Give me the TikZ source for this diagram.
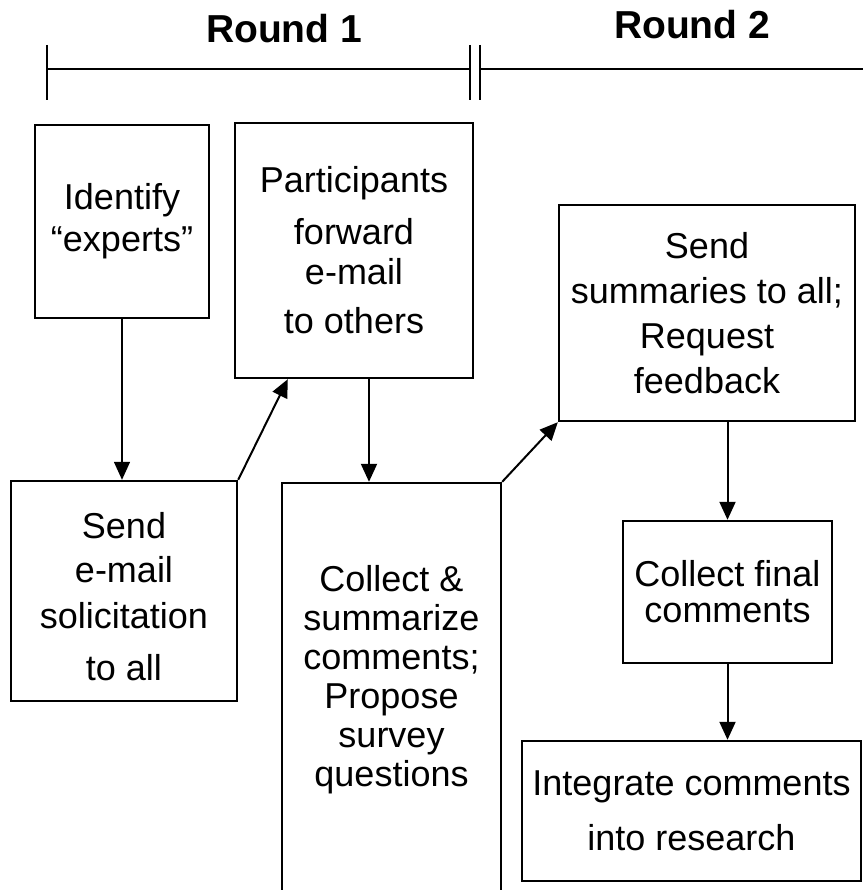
\documentclass[tikz,border=0pt]{standalone}
\usepackage{fontspec}
\setmainfont{Liberation Sans}
\usetikzlibrary{arrows.meta}
\begin{document}
\begin{tikzpicture}[x=1pt, y=-1pt,
        >={Triangle[length=18pt,width=16pt]}, % Pfeilspitzen
        box/.style={draw, line width=2.4pt, inner sep=0pt, align=center},
        txt/.style={align=center, font={\fontsize{36}{#1}\selectfont}},
        round/.style={anchor=base, font={\fontsize{39}{44}\selectfont\bfseries}},
        flow/.style={->, line width=2pt}]
        % Bildbereich
        \useasboundingbox (0,0) rectangle (863,890);
        \clip (0,0) rectangle (863,890);
        % Zeitachse
        \node[round] (round1) at (284,43) {Round 1};
        \node[round] (round2) at (692,39) {Round 2};
        \draw[line width=2pt] (47,45) -- (47,100) (47,69) -- (470,69) (470,45) -- (470,100);
        \draw[line width=2pt] (480,45) -- (480,100) (480,69) -- (863,69);
        % Kaesten Runde 1
        \node[box, txt=42, minimum width=174pt, minimum height=193pt] (ident) at (122,221.5) {Identify\\“experts”};
        \node[box, txt=40, minimum width=238pt, minimum height=255pt] (part) at (354,250.5) {Participants\\[12pt]forward\\e-mail\\[9pt]to others};
        \node[box, minimum width=226pt, minimum height=220pt] (send) at (124,591) {};
        \node[txt=44] (sendtxt) at (124,597) {Send\\e-mail\\[2pt]solicitation\\[8pt]to all};
        \node[box, minimum width=219pt, minimum height=417pt] (collect) at (391.5,691.5) {};
        \node[txt=39] (collecttxt) at (391.5,680) {Collect \&\\summarize\\comments;\\Propose\\survey\\questions};
        % Kaesten Runde 2
        \node[box, txt=45, minimum width=296pt, minimum height=216pt] (summ) at (707,313) {Send\\summaries to all;\\Request\\feedback};
        \node[box, txt=36, minimum width=209pt, minimum height=142pt] (final) at (727.5,592) {Collect final\\comments};
        \node[box, txt=55, minimum width=339pt, minimum height=140pt] (integ) at (691.5,811) {Integrate comments\\into research};
        % Pfeile
        \draw[flow, line width=1.5pt] (ident.south) -- (ident.south |- send.north);
        \draw[flow] (send.north east) -- ([xshift=54pt]part.south west);
        \draw[flow] ([xshift=15pt]part.south) -- ([xshift=15pt]part.south |- collect.north);
        \draw[flow] (collect.north east) -- (summ.south west);
        \draw[flow] (final.north |- summ.south) -- (final.north);
        \draw[flow] (final.south) -- (final.south |- integ.north);
    \end{tikzpicture}
\end{document}
